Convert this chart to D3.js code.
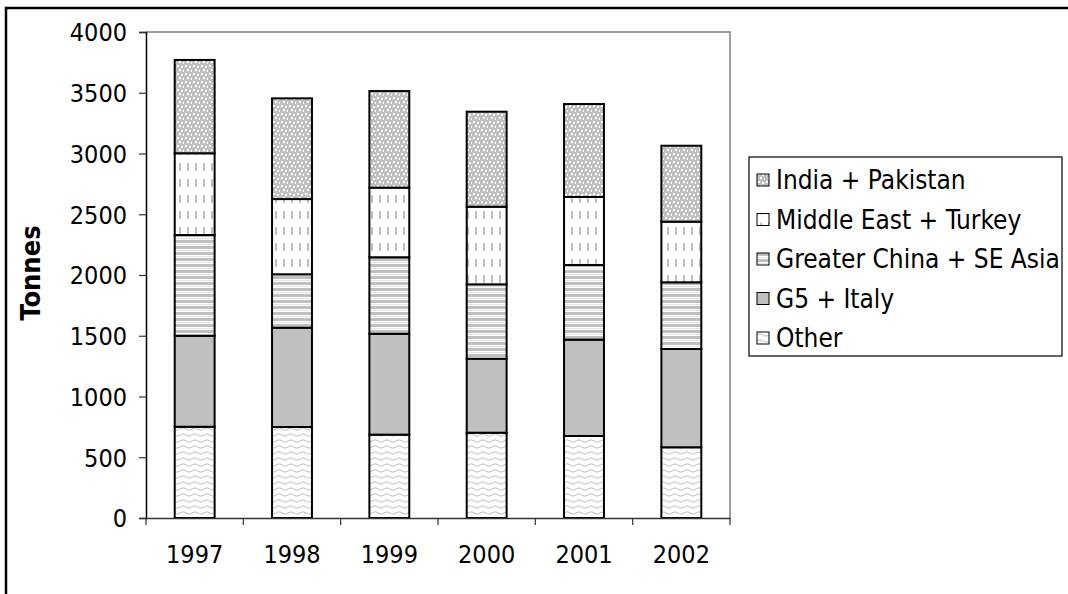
<!DOCTYPE html>
<html>
<head>
<meta charset="utf-8">
<script src="https://cdn.jsdelivr.net/npm/d3@7"></script>
<style>
  html, body { margin: 0; padding: 0; background: #fff; overflow: hidden; }
  svg { display: block; }
  text { font-family: "DejaVu Sans Condensed", "DejaVu Sans", sans-serif; font-stretch: condensed; fill: #000; }
</style>
</head>
<body>
<svg id="chart" width="1068" height="594"></svg>
<script>
// ---- data ----
const years = ["1997", "1998", "1999", "2000", "2001", "2002"];
const seriesNames = ["Other", "G5 + Italy", "Greater China + SE Asia", "Middle East + Turkey", "India + Pakistan"];
const other        = [751, 749, 686, 702, 675, 582];
const g5Italy      = [749, 817, 830, 609, 793, 809];
const greaterChina = [829, 440, 630, 612, 614, 549];
const middleEast   = [673, 619, 573, 639, 560, 499];
const indiaPak     = [768, 829, 795, 782, 765, 625];
const yTicks = [0, 500, 1000, 1500, 2000, 2500, 3000, 3500, 4000];
const legendOrder = ["India + Pakistan", "Middle East + Turkey", "Greater China + SE Asia", "G5 + Italy", "Other"];

const valuesByName = {
  "Other": other,
  "G5 + Italy": g5Italy,
  "Greater China + SE Asia": greaterChina,
  "Middle East + Turkey": middleEast,
  "India + Pakistan": indiaPak
};
const table = years.map((yr, i) => {
  const row = { year: yr };
  seriesNames.forEach(n => row[n] = valuesByName[n][i]);
  return row;
});

const svg = d3.select("#chart");
const defs = svg.append("defs");

// patterns
const grey = "#c0c0c0";
let p = defs.append("pattern").attr("id", "p-india").attr("patternUnits", "userSpaceOnUse")
  .attr("width", 8).attr("height", 8);
p.append("rect").attr("width", 8).attr("height", 8).attr("fill", grey);
[[1,1],[5,2],[3,5],[7,6]].forEach(([px,py]) => p.append("rect").attr("x", px).attr("y", py).attr("width", 2).attr("height", 2).attr("fill", "#fff"));
p = defs.append("pattern").attr("id", "p-me").attr("patternUnits", "userSpaceOnUse")
  .attr("width", 8).attr("height", 16);
p.append("rect").attr("width", 8).attr("height", 16).attr("fill", "#fff");
p.append("rect").attr("x", 3).attr("y", 3).attr("width", 2).attr("height", 8).attr("fill", grey);
p = defs.append("pattern").attr("id", "p-gc").attr("patternUnits", "userSpaceOnUse")
  .attr("width", 8).attr("height", 6);
p.append("rect").attr("width", 8).attr("height", 6).attr("fill", "#fff");
p.append("rect").attr("y", 0).attr("width", 8).attr("height", 3).attr("fill", grey);
p.append("rect").attr("y", 4).attr("width", 8).attr("height", 1).attr("fill", "#e6e6e6");
p = defs.append("pattern").attr("id", "p-g5").attr("patternUnits", "userSpaceOnUse")
  .attr("width", 8).attr("height", 8);
p.append("rect").attr("width", 8).attr("height", 8).attr("fill", grey);
p = defs.append("pattern").attr("id", "p-other").attr("patternUnits", "userSpaceOnUse")
  .attr("width", 12).attr("height", 6);
p.append("rect").attr("width", 12).attr("height", 6).attr("fill", "#fff");
p.append("path").attr("d", "M0,3 Q3,0.5 6,3 T12,3").attr("fill", "none").attr("stroke", grey).attr("stroke-width", 1);

const fillFor = {
  "India + Pakistan": "url(#p-india)",
  "Middle East + Turkey": "url(#p-me)",
  "Greater China + SE Asia": "url(#p-gc)",
  "G5 + Italy": "url(#p-g5)",
  "Other": "url(#p-other)"
};

// outer border (extends beyond the viewport on right/bottom)
svg.append("rect").attr("x", 6).attr("y", 8).attr("width", 1200).attr("height", 800)
  .attr("fill", "none").attr("stroke", "#000").attr("stroke-width", 2.5);

const plotLeft = 146, plotRight = 730, plotTop = 32, plotBottom = 518;
const x = d3.scaleBand().domain(years).range([plotLeft, plotRight]).paddingInner(0.59).paddingOuter(0.295);
const y = d3.scaleLinear().domain([0, 4000]).range([plotBottom, plotTop]);

svg.append("path").attr("d", `M${plotLeft},${plotTop}H${plotRight}V${plotBottom}`)
  .attr("fill", "none").attr("stroke", "#808080").attr("stroke-width", 1.5);

// bars
const stacked = d3.stack().keys(seriesNames)(table);
const layer = svg.append("g").selectAll("g").data(stacked).join("g")
  .attr("fill", d => fillFor[d.key]);
layer.selectAll("rect").data(d => d).join("rect")
  .attr("x", d => x(d.data.year))
  .attr("width", x.bandwidth())
  .attr("y", d => y(d[1]))
  .attr("height", d => y(d[0]) - y(d[1]))
  .attr("stroke", "#000").attr("stroke-width", 2);

// y axis
const yAxis = svg.append("g").attr("transform", `translate(${plotLeft},0)`)
  .call(d3.axisLeft(y).tickValues(yTicks).tickSize(7).tickPadding(12).tickFormat(d3.format("d")));
yAxis.select(".domain").attr("stroke", "#000").attr("stroke-width", 1.5);
yAxis.selectAll(".tick line").attr("stroke", "#333").attr("stroke-width", 1.2);
yAxis.selectAll("text").attr("font-size", 25).attr("font-family", null).attr("dy", "0.35em");

// x axis
const xAxis = svg.append("g").attr("transform", `translate(0,${plotBottom})`)
  .call(d3.axisBottom(x).tickSize(0).tickPadding(27));
xAxis.select(".domain").attr("stroke", "#333").attr("stroke-width", 1.5);
xAxis.selectAll("text").attr("font-size", 25).attr("font-family", null);
const boundaries = d3.range(years.length + 1).map(i => plotLeft + i * (plotRight - plotLeft) / years.length);
svg.append("g").selectAll("line").data(boundaries).join("line")
  .attr("x1", d => d).attr("x2", d => d).attr("y1", plotBottom).attr("y2", plotBottom + 7)
  .attr("stroke", "#333").attr("stroke-width", 1.2);

// y label
svg.append("text").attr("transform", `translate(40,273) rotate(-90)`)
  .attr("text-anchor", "middle").attr("font-size", 27).attr("font-weight", "bold")
  .text("Tonnes");

// legend
const lg = svg.append("g");
lg.append("rect").attr("x", 749).attr("y", 157).attr("width", 313).attr("height", 199)
  .attr("fill", "#fff").attr("stroke", "#000").attr("stroke-width", 1.2);
const items = lg.selectAll("g.item").data(legendOrder).join("g").attr("class", "item")
  .attr("transform", (d, i) => `translate(757,${180 + i * 39.5})`);
items.append("rect").attr("x", 0).attr("y", -6).attr("width", 12).attr("height", 12)
  .attr("fill", d => fillFor[d]).attr("stroke", "#000").attr("stroke-width", 1);
items.append("text").attr("x", 19).attr("y", 0).attr("dy", "0.36em")
  .attr("font-size", 26).text(d => d);
</script>
</body>
</html>
